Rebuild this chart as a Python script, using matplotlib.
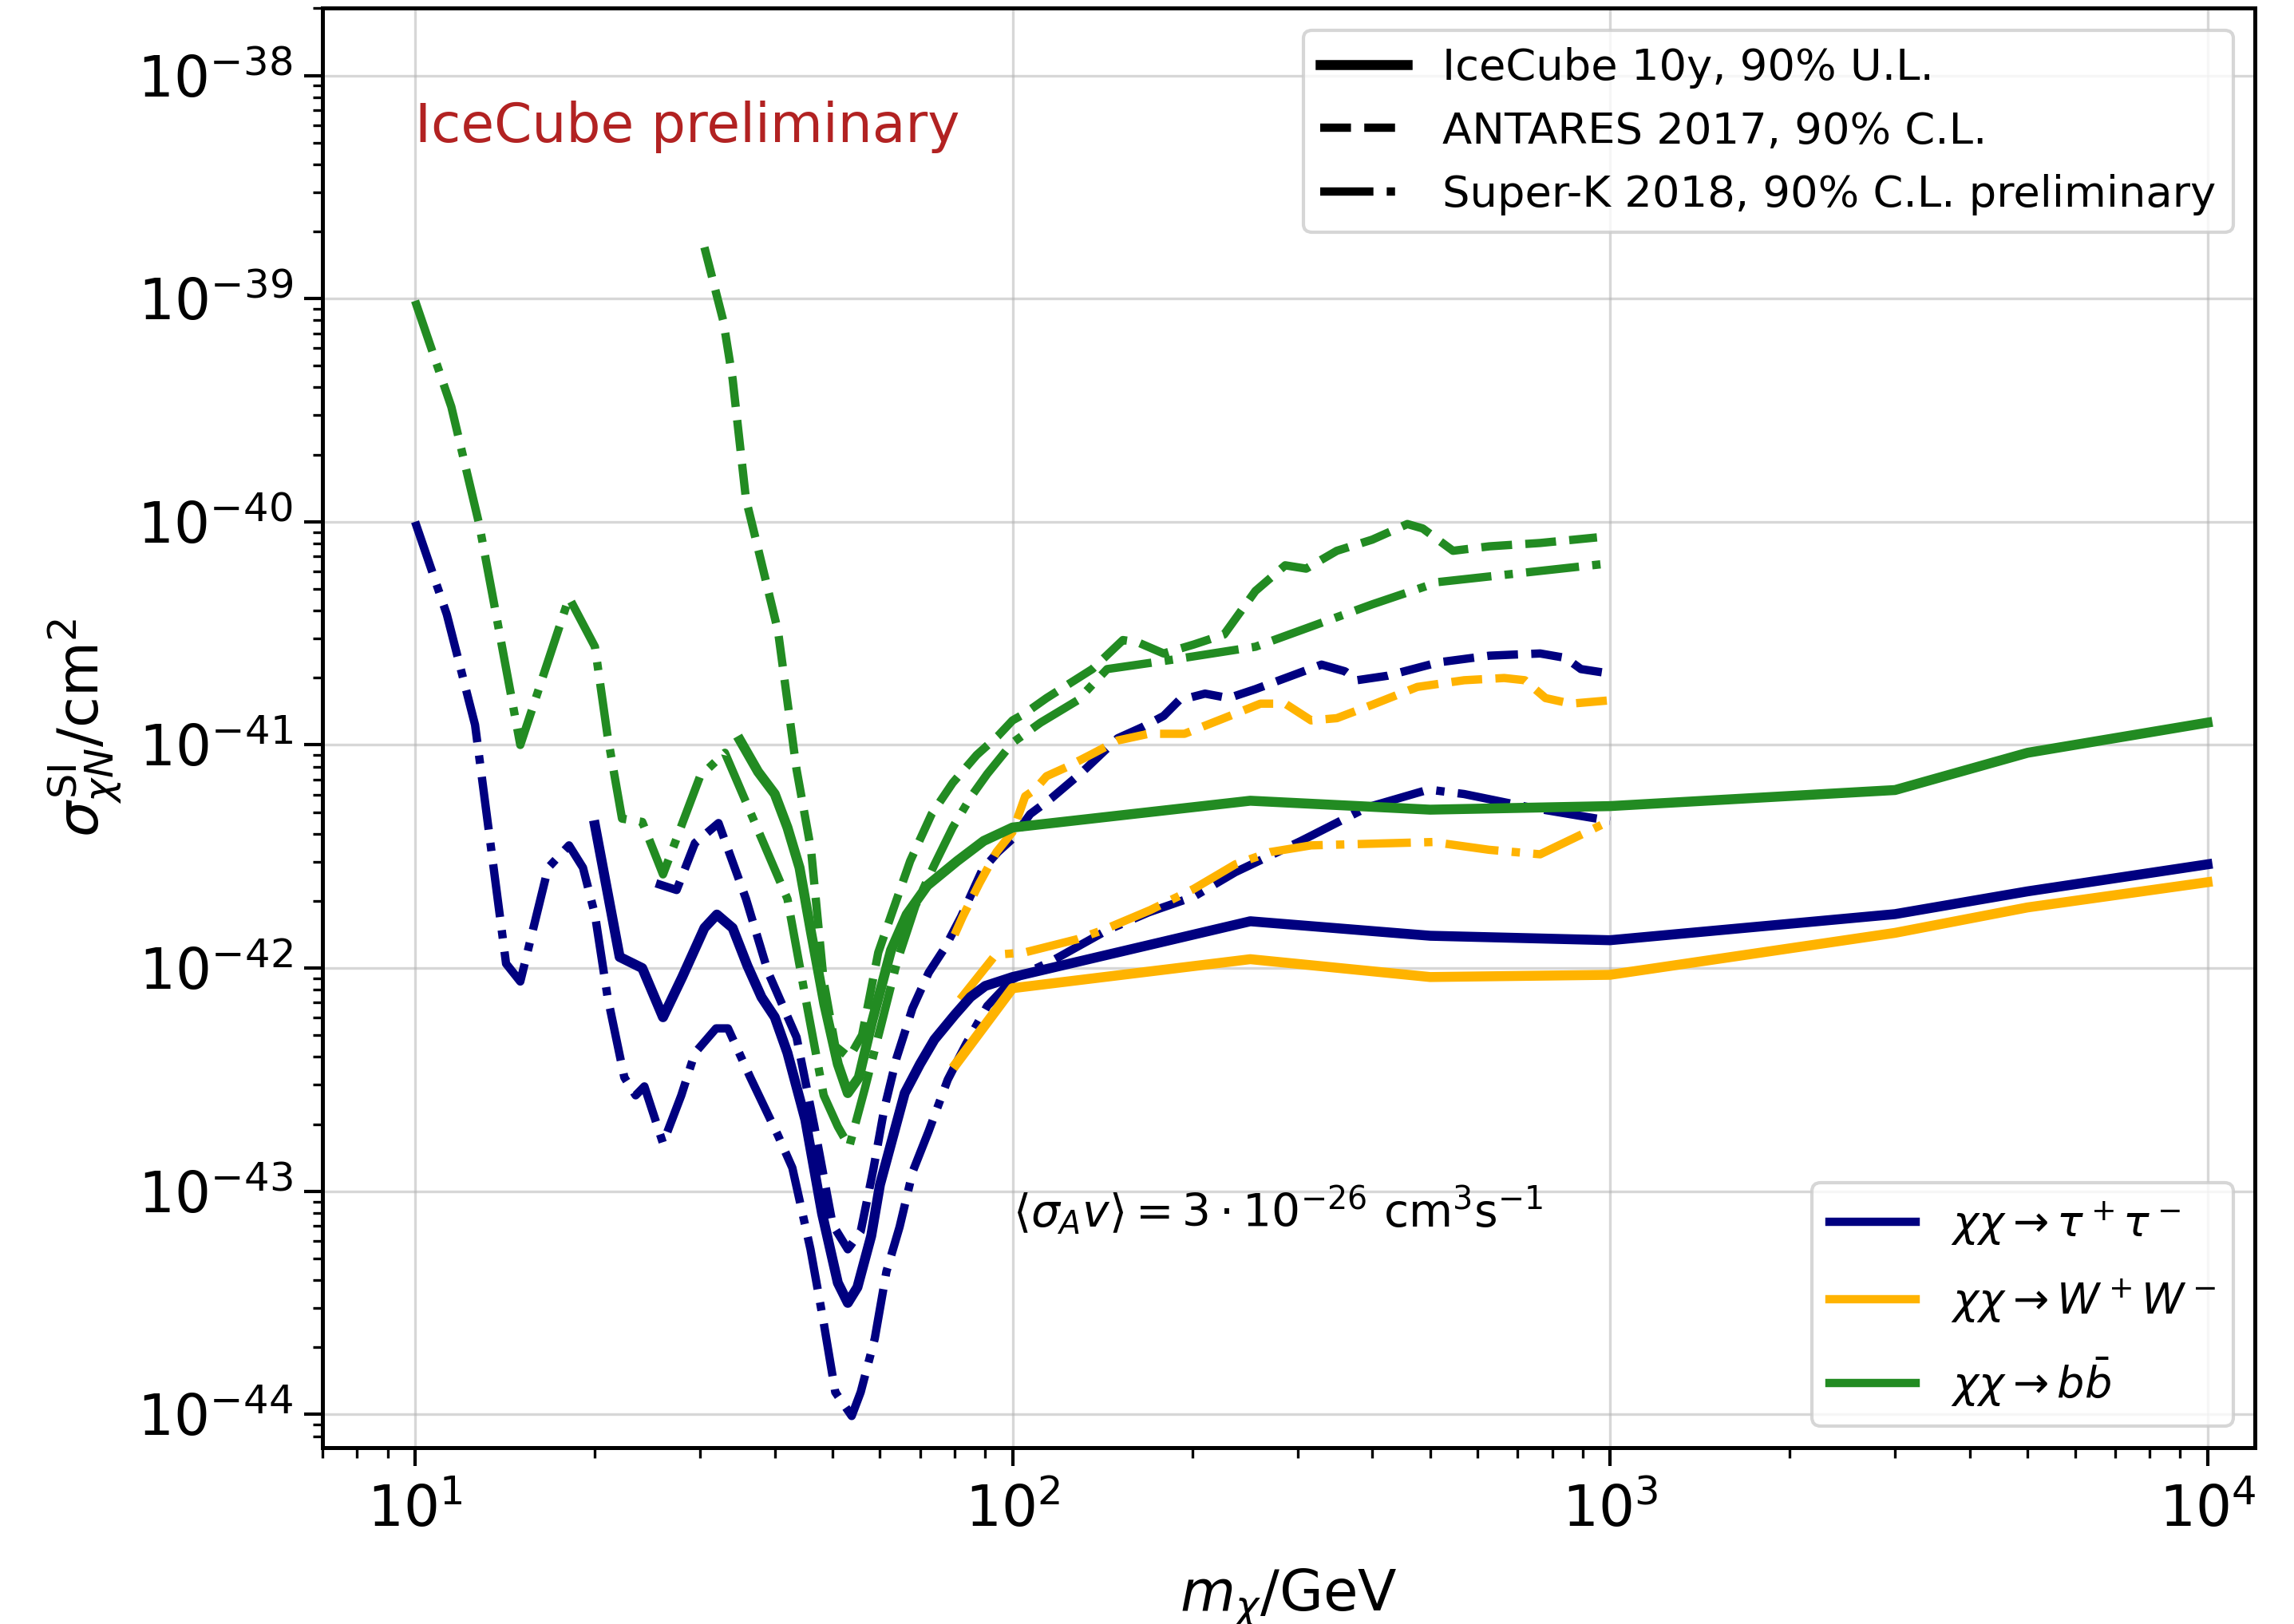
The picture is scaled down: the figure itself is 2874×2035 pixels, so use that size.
import numpy as np
import matplotlib
matplotlib.use("Agg")
import matplotlib.pyplot as plt
from matplotlib.lines import Line2D

# ---------------------------------------------------------------
# Dark-matter spin-independent cross-section limits (log10 cm^2)
# ---------------------------------------------------------------

# IceCube 10 years, 90% U.L.
tau_ic_m = [20, 22, 24, 26, 28, 30.5, 32, 34, 36, 38, 40, 42, 45, 48, 51, 53, 55,
            58, 60, 63, 66, 70, 74, 80, 85, 90, 100, 250, 500, 1000, 3000, 5000, 10000]
tau_ic_s = [-41.36, -41.95, -42.00, -42.22, -42.04, -41.82, -41.76, -41.82, -41.99,
            -42.13, -42.22, -42.38, -42.68, -43.10, -43.41, -43.50, -43.43, -43.20,
            -42.97, -42.76, -42.56, -42.43, -42.32, -42.21, -42.13, -42.08, -42.04,
            -41.79, -41.855, -41.875, -41.758, -41.656, -41.535]

ww_ic_m = [80.4, 100, 250, 500, 1000, 3000, 5000, 10000]
ww_ic_s = [-42.43, -42.09, -41.96, -42.04, -42.03, -41.842, -41.728, -41.615]

bb_ic_m = [35, 37.5, 40, 42, 44, 46, 48.4, 51, 53, 55.3, 58.2, 62.6, 66.5, 72, 80.8,
           89.5, 100, 250, 500, 1000, 3000, 5000, 10000]
bb_ic_s = [-40.98, -41.12, -41.22, -41.37, -41.55, -41.84, -42.16, -42.43, -42.56,
           -42.49, -42.24, -41.92, -41.76, -41.63, -41.52, -41.43, -41.37, -41.25,
           -41.29, -41.274, -41.202, -41.035, -40.90]

# ANTARES 2017, 90% C.L.
tau_an_m = [25.3, 27.4, 29.4, 32.2, 35.8, 39, 43.5, 46.6, 50, 53, 55.7, 58.5, 61, 64,
            68, 72.4, 77, 82, 89, 94.5, 100, 107, 116, 131, 150, 165, 179, 190, 210,
            230, 255, 300, 329, 360, 377, 424, 516, 628, 764, 843, 894, 1000]
tau_an_s = [-41.62, -41.65, -41.44, -41.35, -41.69, -42.02, -42.31, -42.71, -43.15,
            -43.26, -43.18, -42.90, -42.63, -42.40, -42.18, -42.02, -41.91, -41.77,
            -41.56, -41.48, -41.42, -41.31, -41.24, -41.12, -40.97, -40.92, -40.87,
            -40.80, -40.77, -40.79, -40.75, -40.68, -40.64, -40.67, -40.71, -40.69,
            -40.63, -40.60, -40.59, -40.61, -40.66, -40.68]

ww_an_m = [80, 82.5, 88, 94, 100, 105, 109, 114, 123, 136, 150, 169, 194, 226, 260,
           286, 316, 349, 400, 476, 570, 665, 720, 780, 860, 1000]
ww_an_s = [-41.85, -41.77, -41.62, -41.48, -41.39, -41.23, -41.20, -41.14, -41.10,
           -41.04, -40.98, -40.95, -40.95, -40.88, -40.815, -40.815, -40.89, -40.88,
           -40.82, -40.74, -40.71, -40.70, -40.71, -40.79, -40.815, -40.80]

bb_an_m = [30.5, 32.8, 34, 35.8, 37.5, 40.5, 43.5, 46, 48.3, 50.5, 53.3, 56, 59.6,
           62.7, 67.4, 73.2, 79.4, 87.1, 94.5, 100, 104.7, 114, 122, 136, 153, 162,
           179, 201, 226, 255, 286, 310, 349, 400, 458, 486, 546, 628, 764, 951]
bb_an_s = [-38.77, -39.10, -39.36, -39.90, -40.12, -40.49, -41.11, -41.47, -42.06,
           -42.35, -42.40, -42.30, -41.93, -41.76, -41.52, -41.31, -41.17, -41.045,
           -40.96, -40.89, -40.86, -40.79, -40.74, -40.66, -40.53, -40.54, -40.59,
           -40.55, -40.505, -40.31, -40.195, -40.21, -40.13, -40.08, -40.01, -40.03,
           -40.13, -40.11, -40.095, -40.07]

# Super-K 2018, 90% C.L. preliminary
tau_sk_m = [10, 11.3, 12.6, 14.2, 15, 16.7, 18.1, 19.1, 20, 21, 22.4, 23.4, 24.2, 26,
            27.9, 29.4, 31.9, 33.4, 36.4, 40.5, 42.8, 45.9, 48.3, 50.5, 53.8, 55.7,
            58.8, 61.5, 64.7, 68.1, 72.4, 77.9, 83.6, 90.7, 100, 116, 144, 169, 201,
            236, 304, 392, 497, 570, 734, 1000]
tau_sk_s = [-40.00, -40.415, -40.91, -41.98, -42.06, -41.55, -41.45, -41.55, -41.76,
            -42.13, -42.49, -42.57, -42.53, -42.785, -42.57, -42.38, -42.27, -42.27,
            -42.49, -42.75, -42.895, -43.26, -43.59, -43.90, -44.007, -43.90, -43.66,
            -43.36, -43.16, -42.91, -42.73, -42.50, -42.34, -42.17, -42.05, -41.97,
            -41.83, -41.75, -41.68, -41.57, -41.43, -41.28, -41.20, -41.22, -41.28,
            -41.34]

ww_sk_m = [81.7, 93.7, 104.7, 128.5, 141.5, 170, 201, 236, 270, 316, 506, 628, 764, 1000]
ww_sk_s = [-42.14, -41.94, -41.93, -41.87, -41.83, -41.74, -41.645, -41.535, -41.48,
           -41.45, -41.435, -41.47, -41.49, -41.34]

bb_sk_m = [10, 11.5, 12.8, 13.5, 15, 18.1, 20, 21, 22.2, 24, 26, 30, 33, 42, 45, 48.3,
           51, 53.3, 56.6, 60.2, 64.1, 68.8, 73.9, 79.4, 85.3, 90.7, 100, 111.4, 128.5,
           144, 183, 255, 400, 516, 1000]
bb_sk_s = [-39.01, -39.485, -40.01, -40.34, -41.0, -40.34, -40.56, -40.96, -41.33,
           -41.345, -41.58, -41.14, -41.035, -41.69, -42.13, -42.57, -42.71, -42.80,
           -42.54, -42.26, -41.97, -41.72, -41.54, -41.37, -41.23, -41.13, -40.99,
           -40.90, -40.80, -40.66, -40.62, -40.56, -40.37, -40.27, -40.186]

channel_labels = [r'$\chi\chi \rightarrow \tau^+\tau^-$',
                  r'$\chi\chi \rightarrow W^+W^-$',
                  r'$\chi\chi \rightarrow b\bar{b}$']
experiment_labels = ['IceCube 10y, 90% U.L.',
                     'ANTARES 2017, 90% C.L.',
                     'Super-K 2018, 90% C.L. preliminary']

C_TAU = '#000080'
C_WW = '#FFB300'
C_BB = '#228B22'

DPI = 300
fig = plt.figure(figsize=(2874 / DPI, 2035 / DPI), dpi=DPI)
ax = fig.add_axes([0.1406, 0.1086, 0.8423, 0.8863])


def sig(vals):
    return 10.0 ** np.asarray(vals)


LW_SOLID = 3.0
LW_BROKEN = 2.5

# ANTARES (dashed)
ax.plot(tau_an_m, sig(tau_an_s), color=C_TAU, ls='--', lw=LW_BROKEN)
ax.plot(ww_an_m, sig(ww_an_s), color=C_WW, ls='--', lw=LW_BROKEN)
ax.plot(bb_an_m, sig(bb_an_s), color=C_BB, ls='--', lw=LW_BROKEN)
# Super-K (dash-dot)
ax.plot(tau_sk_m, sig(tau_sk_s), color=C_TAU, ls='-.', lw=LW_BROKEN)
ax.plot(ww_sk_m, sig(ww_sk_s), color=C_WW, ls='-.', lw=LW_BROKEN)
ax.plot(bb_sk_m, sig(bb_sk_s), color=C_BB, ls='-.', lw=LW_BROKEN)
# IceCube (solid)
ax.plot(tau_ic_m, sig(tau_ic_s), color=C_TAU, ls='-', lw=LW_SOLID)
ax.plot(ww_ic_m, sig(ww_ic_s), color=C_WW, ls='-', lw=LW_SOLID)
ax.plot(bb_ic_m, sig(bb_ic_s), color=C_BB, ls='-', lw=LW_SOLID)

ax.set_xscale('log')
ax.set_yscale('log')
ax.set_xlim(7, 1.2e4)
ax.set_ylim(7.1e-45, 2.0e-38)

ax.grid(True, which='major', color='#b0b0b0', alpha=0.5, lw=0.8)
ax.tick_params(which='major', length=5.5, width=1.0, labelsize=17)
ax.tick_params(axis='x', which='major', pad=5.2)
ax.tick_params(which='minor', length=3.0, width=0.8)
for sp in ax.spines.values():
    sp.set_linewidth(1.2)

ax.set_xlabel(r'$m_\chi$/GeV', fontsize=17, labelpad=8.5)
ax.set_ylabel(r'$\sigma^{\rm SI}_{\chi N}/{\rm cm}^2$', fontsize=17)

ax.text(10, 10 ** -38.30, 'IceCube preliminary', color='#B22222', fontsize=16.3,
        ha='left', va='baseline')
ax.text(100, 10 ** -43.16, r'$\langle\sigma_A v\rangle = 3\cdot10^{-26}\ \rm{cm}^3\rm{s}^{-1}$',
        fontsize=13.6, ha='left', va='baseline')

style_handles = [Line2D([], [], color='k', ls='-', lw=LW_SOLID),
                 Line2D([], [], color='k', ls='--', lw=LW_BROKEN),
                 Line2D([], [], color='k', ls='-.', lw=LW_BROKEN)]
leg1 = ax.legend(style_handles, experiment_labels, loc='upper right', fontsize=13.05)
ax.add_artist(leg1)

color_handles = [Line2D([], [], color=c, ls='-', lw=LW_BROKEN)
                 for c in (C_TAU, C_WW, C_BB)]
ax.legend(color_handles, channel_labels, loc='lower right', fontsize=13,
          labelspacing=0.7)

fig.savefig('out.png', dpi=DPI)
